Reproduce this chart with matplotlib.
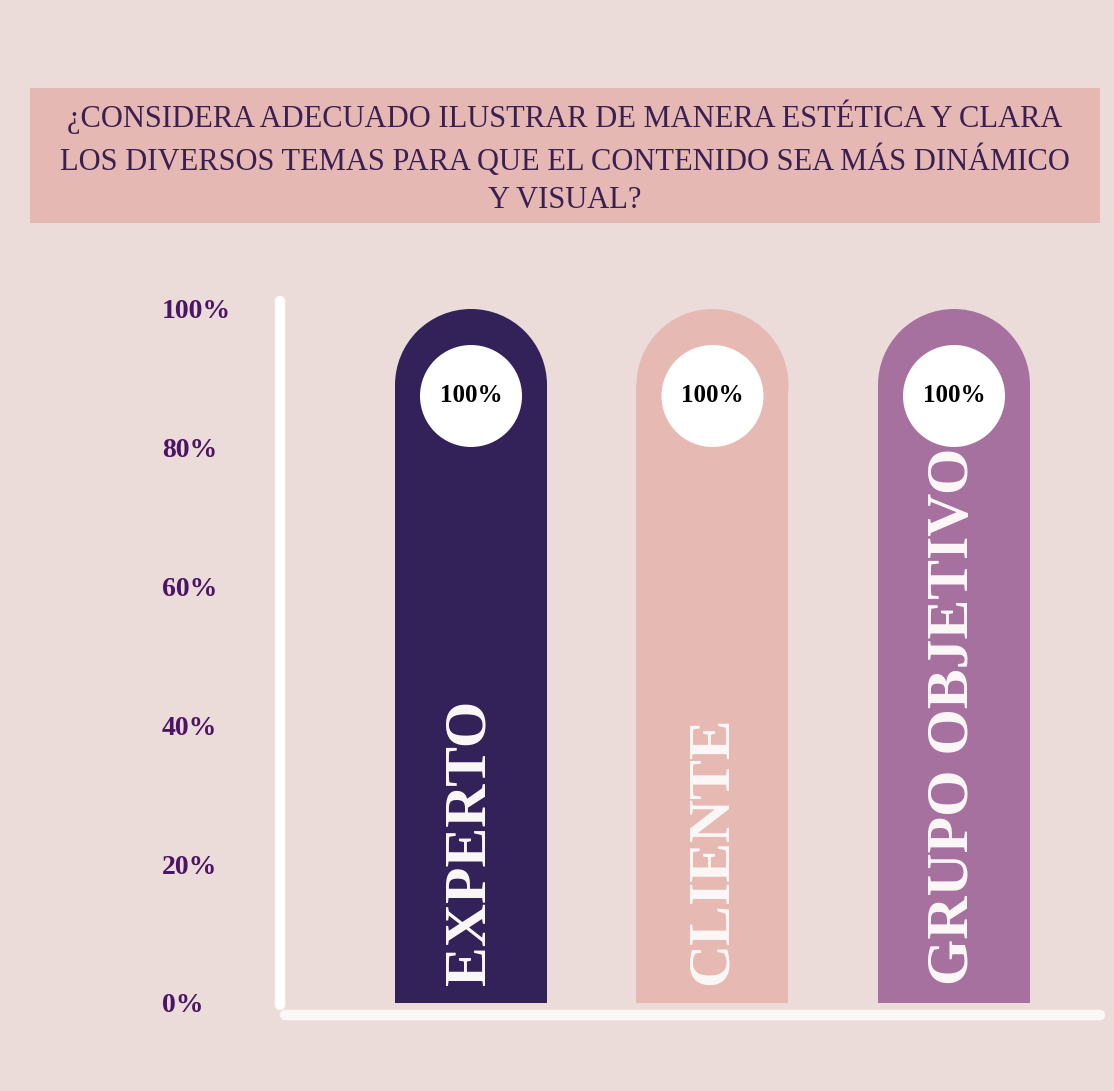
import matplotlib.pyplot as plt
from matplotlib.patches import Rectangle, Ellipse

# data
groups = ["EXPERTO", "CLIENTE", "GRUPO OBJETIVO"]
values = [100, 100, 100]
bar_colors = ["#33215a", "#e7b9b3", "#a6709f"]
yticks = [0, 20, 40, 60, 80, 100]
ytick_labels = ["0%", "20%", "40%", "60%", "80%", "100%"]
title = ("¿CONSIDERA ADECUADO ILUSTRAR DE MANERA ESTÉTICA Y CLARA\n"
         "LOS DIVERSOS TEMAS PARA QUE EL CONTENIDO SEA MÁS DINÁMICO\n"
         "Y VISUAL?")

bg = "#ebdcd9"
ink = "#3a1f52"
serif = ["Liberation Serif", "DejaVu Serif"]

W, H = 1114, 1091
fig = plt.figure(figsize=(W / 100, H / 100), dpi=100, facecolor=bg)

# title banner
fig.patches.append(Rectangle((30 / W, 1 - 223 / H), 1070 / W, 135 / H,
                             transform=fig.transFigure, facecolor="#e5b8b3",
                             edgecolor="none", zorder=0))
fig.text(565 / W, 1 - 157 / H, title, ha="center", va="center",
         fontsize=22, color=ink, family=serif, linespacing=1.4)

# axes: left at px 280, right px 1100, y=0 at px 1003, y=100 at px 309
left, right, y0, y100 = 280, 1100, 1003, 309
ax = fig.add_axes([left / W, 1 - y0 / H, (right - left) / W, (y0 - y100) / H])
ax.set_facecolor("none")
step = 241.5
ax.set_xlim(-(471 - left) / step, (right - 471) / step)
ax.set_ylim(0, 100)
for s in ax.spines.values():
    s.set_visible(False)
ax.set_xticks([])
ax.set_yticks(yticks)
ax.set_yticklabels(ytick_labels, family=serif, fontsize=20, color="#4b1464",
                   ha="left", weight="bold")
ax.tick_params(axis="y", length=0, pad=(left - 162) * 0.72)

# axis lines
ax.plot([0, 0], [-0.003, 1.011], transform=ax.transAxes, color="white",
        lw=7.5, solid_capstyle="round", clip_on=False)
ax.plot([0.006, 1.0], [-0.017, -0.017], transform=ax.transAxes, color="#fbf7f7",
        lw=7.5, solid_capstyle="round", clip_on=False)

px_y = (y0 - y100) / 100.0   # pixels per data unit (y)
bw = 152 / step
r_y = 76 / px_y
circ_r = 51
for i, (g, v, c) in enumerate(zip(groups, values, bar_colors)):
    ax.add_patch(Rectangle((i - bw / 2, 0), bw, v - r_y, facecolor=c,
                           edgecolor="none", zorder=2))
    ax.add_patch(Ellipse((i, v - r_y), bw, 2 * r_y, facecolor=c,
                         edgecolor="none", zorder=2))
    cy = (y0 - 396) / px_y
    ax.add_patch(Ellipse((i, cy), 2 * circ_r / step, 2 * circ_r / px_y,
                         facecolor="white", edgecolor="none", zorder=3))
    ax.text(i, cy, f"{v}%", ha="center", va="center", fontsize=18,
            color="black", family=serif, weight="bold", zorder=4)
    ax.text(i, (y0 - 985) / px_y, g, rotation=90, ha="center", va="bottom",
            fontsize=43, color="#fdf8f8", family=serif, weight="bold", zorder=4)

fig.savefig("out.png", dpi=100, facecolor=bg)
